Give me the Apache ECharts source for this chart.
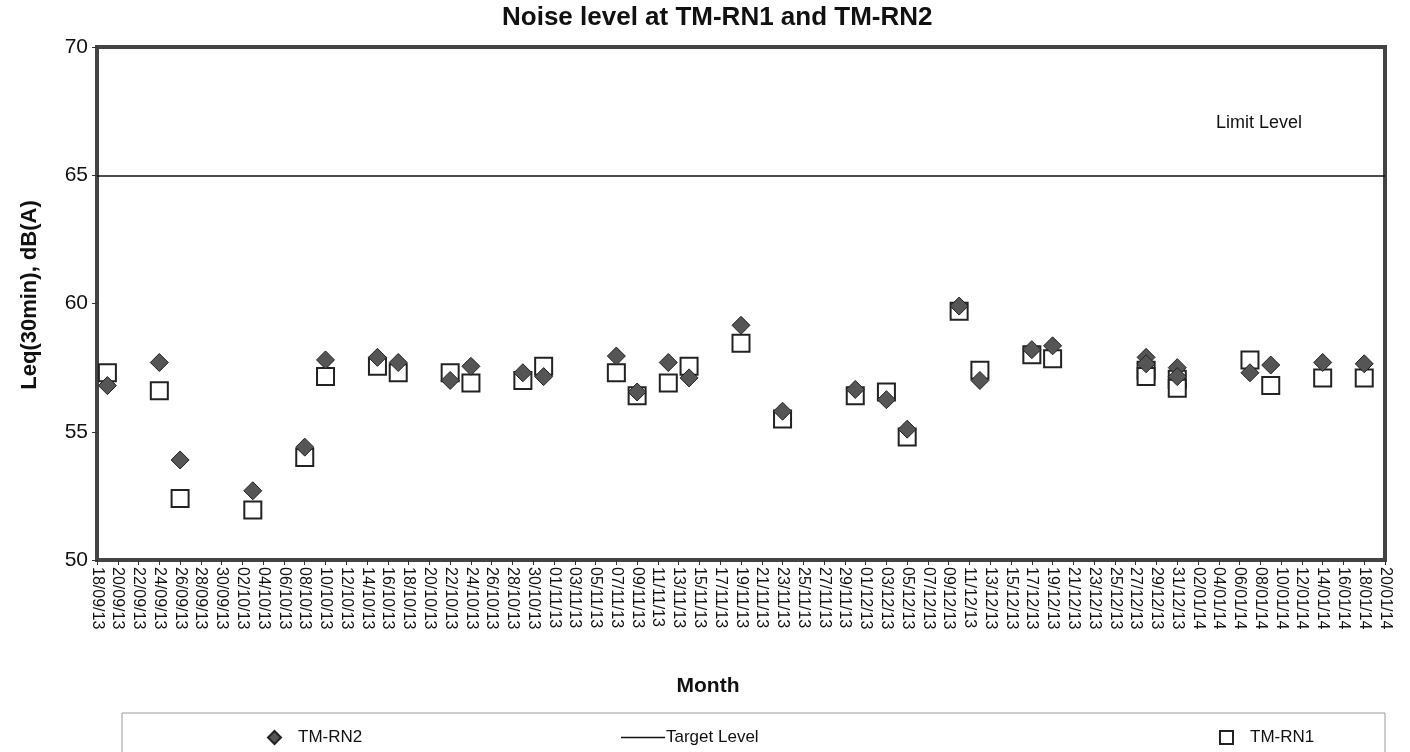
<!DOCTYPE html>
<html>
<head>
<meta charset="utf-8">
<script src="https://cdn.jsdelivr.net/npm/echarts@6/dist/echarts.min.js"></script>
<style>
html,body{margin:0;padding:0;background:#fff;}
#chart{width:1410px;height:752px;}
</style>
</head>
<body>
<div id="chart"></div>
<script>
// ---- data ----
const axisStart = '2013-09-18';
const axisEnd = '2014-01-20';
const sampleDates = ['19/09/13','24/09/13','26/09/13','03/10/13','08/10/13','10/10/13','15/10/13','17/10/13',
  '22/10/13','24/10/13','29/10/13','31/10/13','07/11/13','09/11/13','12/11/13','14/11/13','19/11/13',
  '23/11/13','30/11/13','03/12/13','05/12/13','10/12/13','12/12/13','17/12/13','19/12/13','28/12/13',
  '28/12/13','31/12/13','31/12/13','07/01/14','09/01/14','14/01/14','18/01/14'];
const rn2Values = [56.8,57.7,53.9,52.7,54.4,57.8,57.9,57.7,57.0,57.55,57.3,57.15,57.95,56.55,57.7,57.1,59.15,
  55.8,56.65,56.25,55.1,59.9,57.0,58.2,58.35,57.9,57.65,57.5,57.15,57.3,57.6,57.7,57.65];
const rn1Values = [57.3,56.6,52.4,51.95,54.0,57.15,57.55,57.3,57.3,56.9,57.0,57.55,57.3,56.4,56.9,57.55,58.45,
  55.5,56.4,56.55,54.8,59.7,57.4,58.0,57.85,57.4,57.15,57.05,56.7,57.8,56.8,57.1,57.1];
const targetLevel = 65;
const yTicks = [50, 55, 60, 65, 70];

// tick labels: every day on the axis, dd/mm/yy
const categories = [];
(function(){
  const d = new Date(axisStart + 'T00:00:00Z');
  const e = new Date(axisEnd + 'T00:00:00Z');
  while (d <= e) {
    const dd = String(d.getUTCDate()).padStart(2,'0');
    const mm = String(d.getUTCMonth()+1).padStart(2,'0');
    const yy = String(d.getUTCFullYear()).slice(2);
    categories.push(dd + '/' + mm + '/' + yy);
    d.setUTCDate(d.getUTCDate()+1);
  }
})();

const rn2Data = sampleDates.map((s,i)=>[categories.indexOf(s), rn2Values[i]]);
const rn1Data = sampleDates.map((s,i)=>[categories.indexOf(s), rn1Values[i]]);

const FONT = '"Liberation Sans", Arial, sans-serif';
const chart = echarts.init(document.getElementById('chart'), null, {renderer:'canvas'});
chart.setOption({
  animation: false,
  backgroundColor: '#fff',
  textStyle: {fontFamily: FONT, color: '#111'},
  title: {
    text: 'Noise level at TM-RN1 and TM-RN2',
    left: 497, top: 0,
    textStyle: {fontFamily: FONT, fontSize: 26, fontWeight: 'bold', color: '#111'}
  },
  grid: {
    left: 97, right: 25, top: 47, bottom: 192,
    show: true, borderColor: '#444', borderWidth: 4, backgroundColor: 'transparent'
  },
  legend: [
    {data:[{name:'TM-RN2', icon:'diamond'}], left: 262, top: 724, itemWidth: 13, itemHeight: 13, itemGap: 0,
     textStyle:{fontFamily: FONT, fontSize: 17, color:'#111', padding:[0,0,0,12]}},
    {data:[{name:'Target Level', icon:'path://M0 0H40V1.5H0Z'}], left: 616, top: 724, itemWidth: 44, itemHeight: 2,
     itemStyle:{color:'#111'},
     textStyle:{fontFamily: FONT, fontSize: 17, color:'#111', padding:[0,0,0,-4]}},
    {data:[{name:'TM-RN1', icon:'rect'}], left: 1214, top: 724, itemWidth: 13, itemHeight: 13,
     textStyle:{fontFamily: FONT, fontSize: 17, color:'#111', padding:[0,0,0,12]}}
  ],
  graphic: [
    {type:'rect', shape:{x:122, y:713, width:1263, height:40}, style:{fill:'none', stroke:'#999', lineWidth:1}, z: -1},
    {type:'text', left: 1216, top: 114, style:{text:'Limit Level', font:'18px ' + FONT, fill:'#111'}},
    {type:'text', x: 708, y: 686, style:{text:'Month', font:'bold 21px ' + FONT, fill:'#111', textAlign:'center', textVerticalAlign:'middle'}},
    {type:'text', x: 30, y: 295, rotation: Math.PI/2,
     style:{text:'Leq(30min), dB(A)', font:'bold 22px ' + FONT, fill:'#111', textAlign:'center', textVerticalAlign:'middle'}}
  ],
  xAxis: {
    type: 'category',
    data: categories,
    boundaryGap: false,
    axisLine: {show: false},
    axisTick: {show: true, interval: 1, length: 5, lineStyle: {color:'#333'}},
    axisLabel: {interval: 1, rotate: -90, margin: 7, fontSize: 16, color: '#111', fontFamily: FONT},
    splitLine: {show: false}
  },
  yAxis: {
    type: 'value',
    min: yTicks[0], max: yTicks[yTicks.length-1], interval: 5,
    axisLine: {show: false},
    axisTick: {show: true, length: 5, lineStyle: {color:'#333'}},
    axisLabel: {fontSize: 21, color: '#111', margin: 9, fontFamily: FONT},
    splitLine: {show: false}
  },
  series: [
    {
      name: 'TM-RN1', type: 'scatter', data: rn1Data,
      symbol: 'rect', symbolSize: 17,
      itemStyle: {color: '#fff', borderColor: '#222', borderWidth: 2, opacity: 1},
      z: 2
    },
    {
      name: 'Target Level', type: 'line', data: [],
      lineStyle: {color: '#111', width: 1.5}, itemStyle: {color: '#111'},
      symbol: 'none',
      markLine: {
        silent: true, symbol: ['none','none'], label: {show: false},
        lineStyle: {color: '#111', width: 1.5, type: 'solid'},
        data: [{yAxis: targetLevel}]
      },
      z: 3
    },
    {
      name: 'TM-RN2', type: 'scatter', data: rn2Data,
      symbol: 'diamond', symbolSize: [18, 18],
      itemStyle: {color: '#555', borderColor: '#222', borderWidth: 1, opacity: 1},
      z: 4
    }
  ]
});
</script>
</body>
</html>
